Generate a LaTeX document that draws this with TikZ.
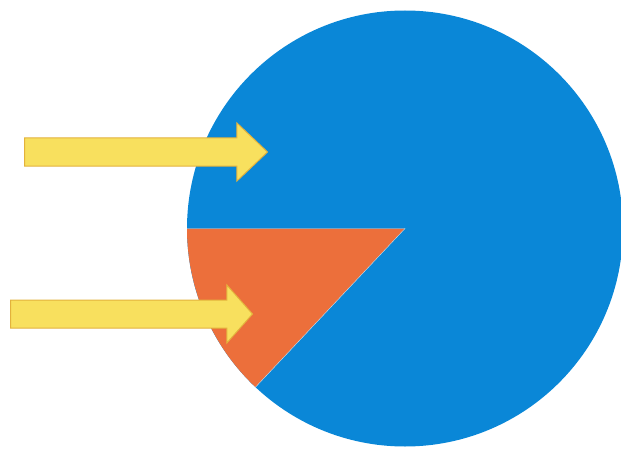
\documentclass[tikz,border=0pt]{standalone}
\usepackage{tikz}
\usetikzlibrary{shapes.arrows,calc}
\definecolor{discBlue}{HTML}{0A87D7}
\definecolor{wedgeOrange}{HTML}{EC6F3B}
\definecolor{rayYellow}{HTML}{F8E05E}
\definecolor{rayEdge}{HTML}{E3B23C}

\tikzset{
  ray/.style={single arrow, fill=rayYellow, draw=rayEdge, line width=1pt,
    inner sep=13.5pt, single arrow head extend=15pt, anchor=tail}
}

\begin{document}
\begin{tikzpicture}[x=1pt, y=1pt]
  \useasboundingbox (0,0) rectangle (621,448);
  \coordinate (c) at (405,219.5);
  \fill[discBlue] (c) circle (218);
  \fill[wedgeOrange] (c) -- ++(180:218) arc (180:226.7:218) -- cycle;
  \draw[white!75!discBlue, line width=0.4pt] ($(c)+(180:218)$) -- (c) -- ($(c)+(226.7:218)$);
  \node[ray, minimum height=243pt, single arrow tip angle=87] (upper) at (24,296) {};
  \node[ray, minimum height=242pt, single arrow tip angle=97] (lower) at (10,134) {};
\end{tikzpicture}
\end{document}
